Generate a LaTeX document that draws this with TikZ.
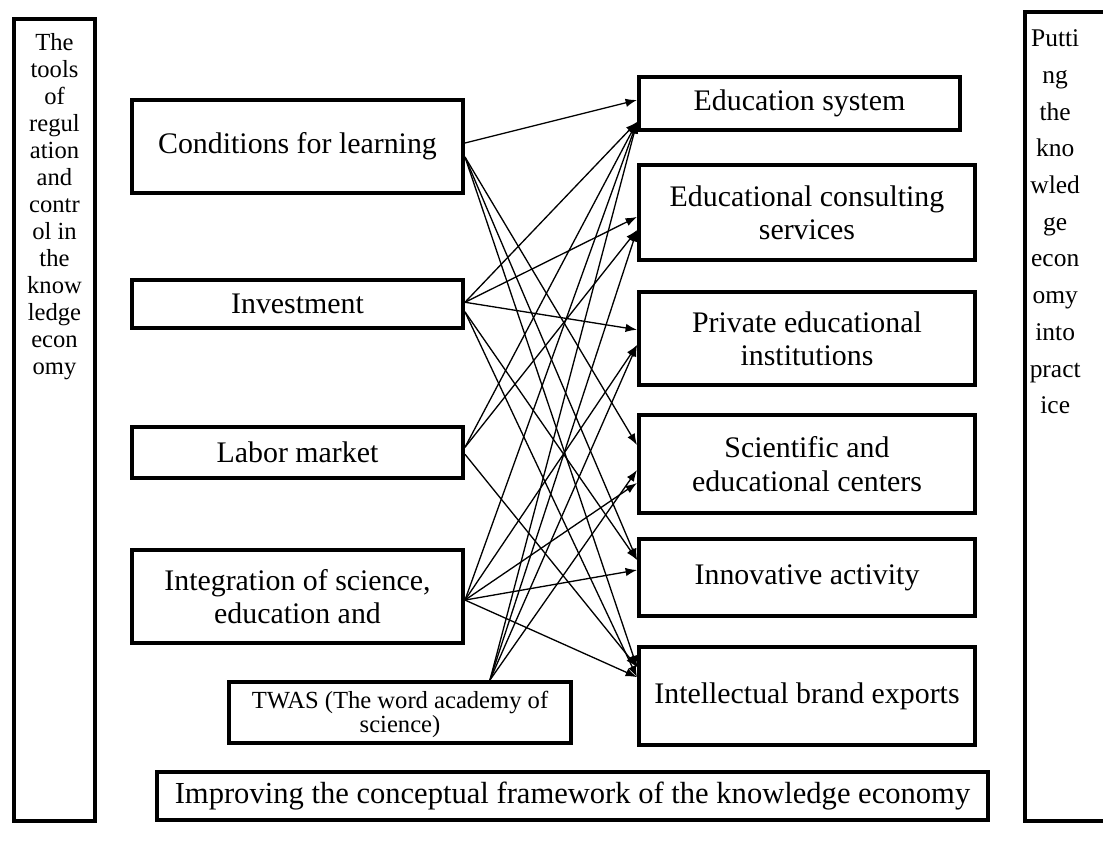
\documentclass[tikz,border=0pt]{standalone}
\usepackage{fontspec}
\setmainfont{Liberation Serif}
\usetikzlibrary{positioning,arrows.meta,calc}

\tikzset{
	box/.style={draw, line width=2.3pt, align=center, inner sep=2pt, font=\fontsize{17}{19}\selectfont},
	leftbox/.style={box, minimum width=6.62cm},
	rightbox/.style={box, minimum width=6.72cm},
	tallbox/.style={draw, line width=2.3pt},
	talltext/.style={anchor=north, align=center, inner sep=0pt},
	link/.style={->, line width=0.75pt}
}

\begin{document}
\begin{tikzpicture}[x=0.02cm, y=-0.02cm, >={Latex[length=6.5pt,width=4.8pt]}]
		\clip (0,0) rectangle (1103,840);
		% outer columns
		\node[tallbox, minimum width=1.62cm, minimum height=16.04cm] (tools) at (54.5,420) {};		% left frame
		\node[talltext, font=\fontsize{14}{15.4}\selectfont] (toolstext) at ([yshift=-9pt]tools.north) {The\\tools\\of\\regul\\ation\\and\\contr\\ol in\\the\\know\\ledge\\econ\\omy};
		\node[tallbox, minimum width=1.7cm, minimum height=16.18cm] (practice) at (1067.5,416.5) {};	% right frame
		\node[talltext, font=\fontsize{14.5}{20.9}\selectfont] (practicetext) at ([xshift=-7pt,yshift=-11pt]practice.north) {Putti\\ng\\the\\kno\\wled\\ge\\econ\\omy\\into\\pract\\ice};
		
		% tools (left)
		\node[leftbox, minimum height=1.86cm] (cond) at (297.5,146.5) {Conditions for learning};
		\node[leftbox, minimum height=0.96cm, below=1.66cm of cond] (invest) {Investment};
		\node[leftbox, minimum height=1.02cm, below=1.90cm of invest] (labor) {Labor market};
		\node[leftbox, minimum height=1.86cm, below=1.36cm of labor] (integ) {Integration of science,\\education and};
		\node[box, minimum width=6.84cm, minimum height=1.22cm] (twas) at (400,712.5) {};
		\node[font=\fontsize{14}{12}\selectfont, align=center, inner sep=0pt] (twastext) at ([yshift=-1pt]twas.center) {TWAS (The word academy of\\science)};
		\node[box, font=\fontsize{17.4}{19}\selectfont, minimum width=16.62cm, minimum height=0.96cm] (improve) at (572.5,796) {Improving the conceptual framework of the knowledge economy};
		
		% fields (right)
		\node[box, minimum width=6.42cm, minimum height=1.06cm] (edu) at (799.5,103.5) {Education system};
		\node[rightbox, minimum height=1.9cm] (cons) at (807,212.5) {Educational consulting\\services};
		\node[rightbox, minimum height=1.86cm, below=0.56cm of cons] (priv) {Private educational\\institutions};
		\node[rightbox, minimum height=1.96cm, below=0.52cm of priv] (sci) {Scientific and\\educational centers};
		\node[rightbox, minimum height=1.54cm, below=0.44cm of sci] (inn) {Innovative activity};
		\node[rightbox, minimum height=1.96cm, below=0.54cm of inn] (intel) {Intellectual brand exports};
		
		\coordinate (twas-top) at ($(twas.north west)!0.76!(twas.north east)$);	% common start on TWAS
		
		% arrows
		\draw[link] ([yshift=2pt]cond.east) to ([yshift=2pt]edu.west);
		\draw[link] ([yshift=-6pt]cond.east) to ([yshift=10.8pt]sci.west);
		\draw[link] ([yshift=-6pt]cond.east) to ([yshift=10pt]inn.west);
		\draw[link] ([yshift=-6pt]cond.east) to ([yshift=16.5pt]intel.west);
		
		\draw[link] ([yshift=1pt]invest.east) to ([yshift=-10.5pt]edu.west);
		\draw[link] ([yshift=1pt]invest.east) to ([yshift=-2.5pt]cons.west);
		\draw[link] ([yshift=1pt]invest.east) to ([yshift=5pt]priv.west);
		\draw[link] ([yshift=-4.5pt]invest.east) to ([yshift=10pt]inn.west);
		\draw[link] ([yshift=-4.5pt]invest.east) to ([yshift=10.8pt]intel.west);
		
		\draw[link] ([yshift=3pt]labor.east) to ([yshift=-10.5pt]edu.west);
		\draw[link] ([yshift=3pt]labor.east) to ([yshift=-10pt]cons.west);
		\draw[link] ([yshift=-1pt]labor.east) to ([yshift=16.5pt]intel.west);
		
		\draw[link] ([yshift=-2pt]integ.east) to ([yshift=-10.5pt]edu.west);
		\draw[link] ([yshift=-2pt]integ.east) to ([yshift=-3.7pt]priv.west);
		\draw[link] ([yshift=-2pt]integ.east) to ([yshift=-10.8pt]sci.west);
		\draw[link] ([yshift=-2pt]integ.east) to ([yshift=4.3pt]inn.west);
		\draw[link] ([yshift=-2pt]integ.east) to ([yshift=10.8pt]intel.west);
		
		\draw[link] (twas-top) to ([yshift=-10.5pt]edu.west);
		\draw[link] (twas-top) to ([yshift=-10pt]cons.west);
		\draw[link] (twas-top) to ([yshift=-3.7pt]priv.west);
		\draw[link] (twas-top) to ([yshift=-3.4pt]sci.west);
\end{tikzpicture}
\end{document}
